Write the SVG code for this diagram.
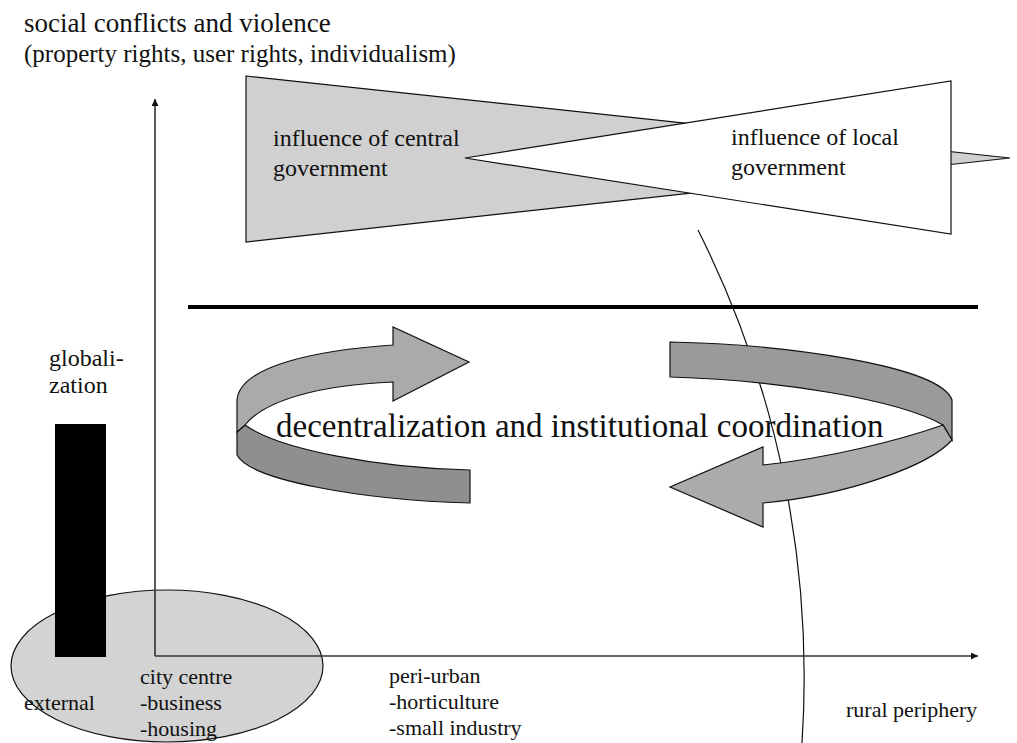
<svg xmlns="http://www.w3.org/2000/svg" width="1017" height="743" viewBox="0 0 1017 743">
  <style>
    text { font-family: "Liberation Serif", "Times New Roman", serif; fill: #111; }
    .lbl { font-size: 24px; }
    .zone { font-size: 22px; }
    .edge { stroke: #111; stroke-width: 1.2; stroke-linejoin: miter; }
    .axis { stroke: #333; stroke-width: 1.6; fill: none; }
  </style>
  <defs>
    <marker id="axisHead" viewBox="0 0 10 10" refX="10" refY="5" markerWidth="7" markerHeight="7" markerUnits="userSpaceOnUse" orient="auto">
      <path d="M0,0 L10,5 L0,10 Z" fill="#111"/>
    </marker>
  </defs>
  <rect width="1017" height="743" fill="#ffffff"/>

  <!-- heading -->
  <g id="title">
    <text x="24" y="32" style="font-size:27px">social conflicts and violence</text>
    <text x="24" y="62" style="font-size:25px">(property rights, user rights, individualism)</text>
  </g>

  <!-- city zone -->
  <g id="city-zone">
    <ellipse cx="167" cy="666" rx="156" ry="76" fill="#d3d3d3" class="edge"/>
  </g>

  <!-- globalization bar -->
  <g id="globalization">
    <text class="lbl" x="49" y="366">globali-</text>
    <text class="lbl" x="49" y="393">zation</text>
    <rect x="55" y="424" width="51" height="233" fill="#000"/>
  </g>

  <!-- rural boundary curve -->
  <g id="rural-boundary">
    <path d="M698,230 A995,995 0 0 1 802,743" fill="none" stroke="#111" stroke-width="1.2"/>
  </g>

  <g id="connectors">
    <line class="axis" x1="155" y1="656" x2="155" y2="99" marker-end="url(#axisHead)"/>
    <line class="axis" x1="155" y1="656" x2="978" y2="656" marker-end="url(#axisHead)"/>
    <line x1="188" y1="307" x2="978" y2="307" stroke="#000" stroke-width="4"/>
  </g>

  <!-- circular arrows -->
  <g id="cycle-left">
    <path class="edge" fill="#8f8f8f" d="M245,425 C280,450 380,468 470,470 L470,503 C360,500 250,480 237,455 L237,432 Z"/>
    <path class="edge" fill="#aaaaaa" d="M393,345 L393,327 L469,362 L393,401 L393,382 C320,385 265,400 245,425 L237,432 L237,400 C240,365 320,350 393,345 Z"/>
  </g>
  <g id="cycle-right">
    <path class="edge" fill="#9a9a9a" d="M670,342 C780,344 940,365 952,400 L952,440 L943,425 C900,400 780,380 670,377 Z"/>
    <path class="edge" fill="#ababab" d="M943,425 L952,440 C930,465 850,495 763,503 L763,527 L670,487 L763,447 L763,465 C830,458 900,440 943,425 Z"/>
  </g>
  <g id="cycle-label">
    <text x="276" y="437" style="font-size:33px">decentralization and institutional coordination</text>
  </g>

  <!-- government influence wedges -->
  <g id="central-government">
    <polygon class="edge" fill="#d0d0d0" points="246,76 1010,158 246,242"/>
    <text class="lbl" x="273" y="146">influence of central</text>
    <text class="lbl" x="273" y="176">government</text>
  </g>
  <g id="local-government">
    <polygon class="edge" fill="#ffffff" points="465,158 951,81 951,234"/>
    <text class="lbl" x="731" y="145">influence of local</text>
    <text class="lbl" x="731" y="175">government</text>
  </g>

  <!-- zone labels -->
  <g id="zone-external">
    <text class="zone" x="24" y="710">external</text>
  </g>
  <g id="zone-city-centre">
    <text class="zone" x="140" y="684">city centre</text>
    <text class="zone" x="140" y="710">-business</text>
    <text class="zone" x="140" y="736">-housing</text>
  </g>
  <g id="zone-peri-urban">
    <text class="zone" x="389" y="683">peri-urban</text>
    <text class="zone" x="389" y="709">-horticulture</text>
    <text class="zone" x="389" y="735">-small industry</text>
  </g>
  <g id="zone-rural">
    <text class="zone" x="846" y="717">rural periphery</text>
  </g>
</svg>
